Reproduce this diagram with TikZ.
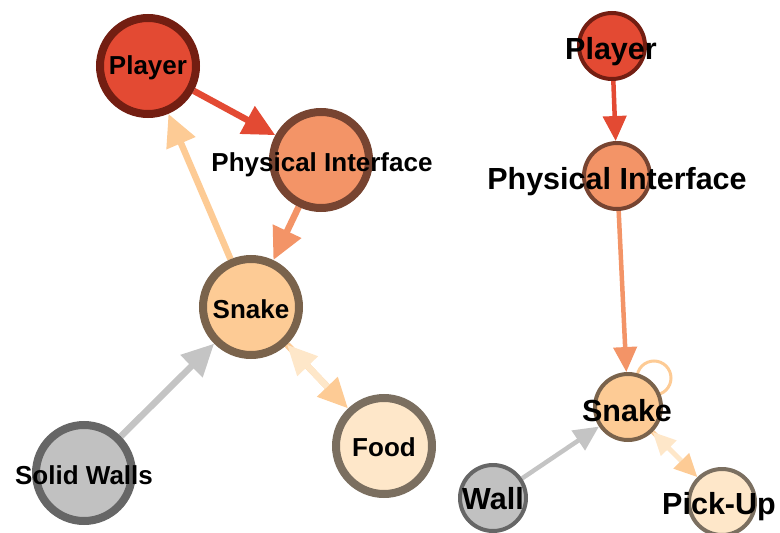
\documentclass[tikz,border=0pt]{standalone}
\usepackage{fontspec}
\setmainfont{Liberation Sans}
\usetikzlibrary{arrows.meta,backgrounds}

\definecolor{plFill}{HTML}{E34A33}
\definecolor{plLine}{HTML}{731E12}
\definecolor{piFill}{HTML}{F39467}
\definecolor{piLine}{HTML}{774431}
\definecolor{snFill}{HTML}{FDCB95}
\definecolor{snLine}{HTML}{7A634C}
\definecolor{foFill}{HTML}{FEE7C9}
\definecolor{foLine}{HTML}{7B6F60}
\definecolor{waFill}{HTML}{C1C1C1}
\definecolor{waLine}{HTML}{666666}
\definecolor{grayEdge}{HTML}{C4C4C4}

\tikzset{
  bignode/.style={circle, minimum size=96pt, inner sep=0pt, line width=8pt},
  smallnode/.style={circle, minimum size=66pt, inner sep=0pt, line width=4pt},
  bigtext/.style={font=\fontsize{26}{30}\selectfont\bfseries, inner sep=0pt},
  smalltext/.style={font=\fontsize{30.5}{34}\selectfont\bfseries, inner sep=0pt},
  bigedge/.style={line width=6.5pt, -{Triangle[length=32pt,width=30pt]}},
  bigpair/.style={line width=6.5pt, -{Triangle[length=30pt,width=27pt]}},
  smalledge/.style={line width=4.5pt, -{Triangle[length=25pt,width=23pt]}},
  smallpair/.style={line width=4.5pt, -{Triangle[length=23pt,width=21pt]}},
  player/.style={fill=plFill, draw=plLine},
  iface/.style={fill=piFill, draw=piLine},
  snake/.style={fill=snFill, draw=snLine},
  food/.style={fill=foFill, draw=foLine},
  wall/.style={fill=waFill, draw=waLine},
}

\begin{document}
\begin{tikzpicture}[x=1pt, y=-1pt]
  \useasboundingbox (0,0) rectangle (780,533);

  % ---- first graph ----
  \node[bignode, player] (p1) at (148,66) {};
  \node[bignode, iface]  (i1) at (321,160) {};
  \node[bignode, snake]  (s1) at (251,307) {};
  \node[bignode, food]   (f1) at (384,446) {};
  \node[bignode, wall]   (w1) at (84,473) {};

  % ---- second graph ----
  \node[smallnode, player] (p2) at (612,46) {};
  \node[smallnode, iface]  (i2) at (617,176) {};
  \node[smallnode, snake]  (s2) at (628,407) {};
  \node[smallnode, wall]   (w2) at (493,498) {};
  \node[smallnode, food]   (f2) at (722,502) {};
  \coordinate (s2loop) at ([shift={(26,-29)}]s2.center);

  \begin{scope}[on background layer]
    % connectors of the first graph
    \draw[bigedge, plFill] (p1) -- (i1);
    \draw[bigedge, piFill] (i1) -- (s1);
    \draw[bigedge, snFill] (s1) -- (p1);
    \draw[bigedge, grayEdge] (w1) -- (s1);
    \draw[bigpair, snFill] (s1) -- (f1);
    \draw[bigpair, foFill, shorten <=30pt] (f1) -- (s1);

    % connectors of the second graph
    \draw[line width=3pt, snFill] (s2loop) circle[radius=17pt];
    \draw[smalledge, plFill] (p2) -- (i2);
    \draw[smalledge, piFill] (i2) -- (s2);
    \draw[smalledge, grayEdge] (w2) -- (s2);
    \draw[smallpair, snFill] (s2) -- (f2);
    \draw[smallpair, foFill, shorten <=23pt] (f2) -- (s2);
  \end{scope}

  % ---- labels ----
  \node[bigtext] (tp1) at (148,68) {Player};
  \node[bigtext] (ti1) at (322,165) {Physical Interface};
  \node[bigtext] (ts1) at (251,309) {Snake};
  \node[bigtext] (tf1) at (384,447) {Food};
  \node[bigtext] (tw1) at (84,475) {Solid Walls};

  \node[smalltext] (tp2) at (611,52) {Player};
  \node[smalltext] (ti2) at (617,182) {Physical Interface};
  \node[smalltext] (ts2) at (627,411) {Snake};
  \node[smalltext] (tw2) at (493,499) {Wall};
  \node[smalltext] (tf2) at (719,507) {Pick-Up};
\end{tikzpicture}
\end{document}
